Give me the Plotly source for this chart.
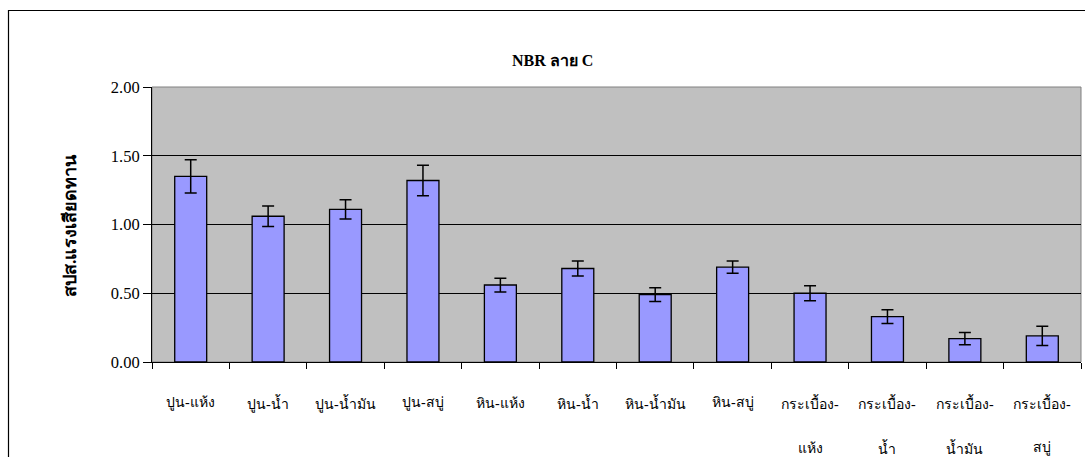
import plotly.graph_objects as go

# Categories: surface material - condition
categories = [
    "ปูน-แห้ง", "ปูน-น้ำ", "ปูน-น้ำมัน", "ปูน-สบู่",
    "หิน-แห้ง", "หิน-น้ำ", "หิน-น้ำมัน", "หิน-สบู่",
    "กระเบื้อง-แห้ง", "กระเบื้อง-น้ำ", "กระเบื้อง-น้ำมัน", "กระเบื้อง-สบู่",
]
# Mean friction coefficient and its error
values = [1.35, 1.06, 1.11, 1.32, 0.56, 0.68, 0.49, 0.69, 0.50, 0.33, 0.17, 0.19]
errors = [0.12, 0.075, 0.07, 0.11, 0.05, 0.055, 0.05, 0.045, 0.055, 0.05, 0.045, 0.07]

y_ticks = [0.0, 0.5, 1.0, 1.5, 2.0]
title_text = "NBR ลาย C"
y_title = "สปส.แรงเสียดทาน"

SERIF = "Liberation Serif"

# Page / plot-area geometry (pixels)
W, H = 1085, 457
L, R, T, B = 152, 4, 87, 95
PW, PH = W - L - R, H - T - B


def px_x(p):
    return (p - L) / PW


def px_y(p):
    return (H - B - p) / PH


fig = go.Figure()
fig.add_trace(go.Bar(
    x=categories,
    y=values,
    marker=dict(color="#9999FF", line=dict(color="black", width=1.3)),
    error_y=dict(type="data", array=errors, visible=True,
                 color="black", thickness=1.5, width=6),
    showlegend=False,
))

# Category labels: wrap after the hyphen for the long names
annotations = []
for c in categories:
    head, tail = c.split("-", 1)
    if len(c) > 10:
        lines = [head + "-", tail]
    else:
        lines = [c]
    for i, line in enumerate(lines):
        annotations.append(dict(
            x=c, xref="x", y=px_y(403 + 45 * i), yref="paper",
            text=line, showarrow=False, xanchor="center", yanchor="middle",
            font=dict(family=SERIF, size=14, color="black"),
        ))

annotations.append(dict(
    x=px_x(552), xref="paper", y=px_y(60), yref="paper",
    text=title_text, showarrow=False,
    xanchor="center", yanchor="middle",
    font=dict(family=SERIF, size=16, color="black", weight="bold"),
))
annotations.append(dict(
    x=px_x(70), xref="paper", y=px_y(225), yref="paper",
    text=y_title, showarrow=False, textangle=-90,
    xanchor="center", yanchor="middle",
    font=dict(family=SERIF, size=18, color="black", weight="bold"),
))

shapes = [
    # plot-area border (grey)
    dict(type="rect", xref="paper", yref="paper", x0=0, x1=1, y0=0, y1=1,
         line=dict(color="#808080", width=1), layer="below"),
    # outer chart frame
    dict(type="rect", xref="paper", yref="paper",
         x0=px_x(8.5), x1=px_x(1095), y0=px_y(470), y1=px_y(10.5),
         line=dict(color="black", width=1.2)),
]

fig.update_layout(
    width=W, height=H,
    margin=dict(l=L, r=R, t=T, b=B, pad=0),
    paper_bgcolor="white",
    plot_bgcolor="#C0C0C0",
    bargap=0.587,
    annotations=annotations,
    shapes=shapes,
    font=dict(family=SERIF, size=14, color="black"),
)
fig.update_xaxes(
    type="category",
    showticklabels=False,
    showline=True, linecolor="black", linewidth=1,
    ticks="outside", tickson="boundaries", ticklen=6, tickcolor="black",
    showgrid=False,
)
fig.update_yaxes(
    range=[0, 2],
    tickvals=y_ticks,
    tickformat=".2f",
    showline=True, linecolor="black", linewidth=1,
    ticks="outside", ticklen=8, tickcolor="black",
    showgrid=True, gridcolor="black", gridwidth=1,
    zeroline=False,
    tickfont=dict(family=SERIF, size=16.5, color="black"),
)

fig.write_html("out.html")
